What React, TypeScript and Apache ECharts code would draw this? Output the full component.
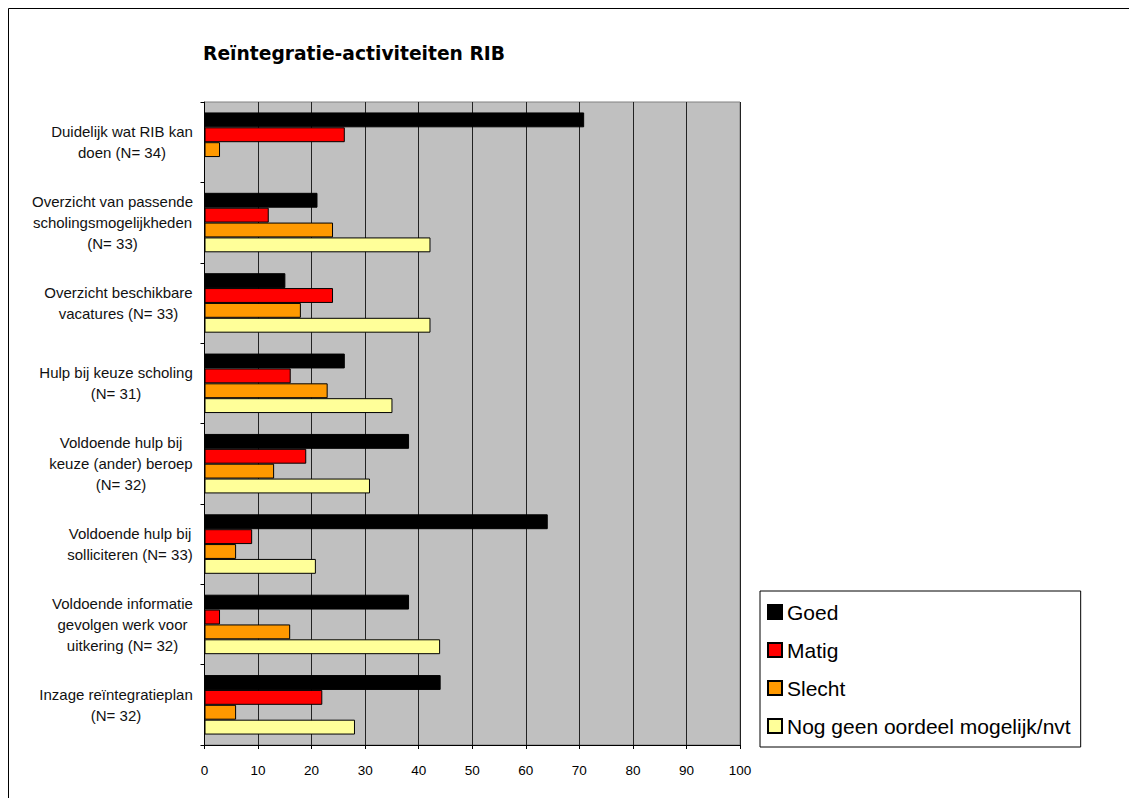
import React, { useEffect, useRef } from "react";
import * as echarts from "echarts";

const categories = [
  "Duidelijk wat RIB kan\ndoen (N= 34)",
  "Overzicht van passende\nscholingsmogelijkheden\n(N= 33)",
  "Overzicht beschikbare\nvacatures (N= 33)",
  "Hulp bij keuze scholing\n(N= 31)",
  "Voldoende hulp bij\nkeuze (ander) beroep\n(N= 32)",
  "Voldoende hulp bij\nsolliciteren (N= 33)",
  "Voldoende informatie\ngevolgen werk voor\nuitkering (N= 32)",
  "Inzage reïntegratieplan\n(N= 32)",
];

const goed = [70.9, 21.1, 15.1, 26.2, 38.2, 64.1, 38.2, 44.1];
const matig = [26.2, 12.0, 24.0, 16.1, 19.0, 8.9, 2.9, 22.0];
const slecht = [2.9, 24.0, 18.0, 23.0, 13.0, 5.9, 16.0, 5.9];
const nogGeen = [null, 42.2, 42.2, 35.1, 30.9, 20.8, 44.0, 28.1];

const seriesNames = ["Goed", "Matig", "Slecht", "Nog geen oordeel mogelijk/nvt"];
const seriesColors = ["#000000", "#FF0000", "#FF9900", "#FFFF99"];
const xTicks = [0, 10, 20, 30, 40, 50, 60, 70, 80, 90, 100];

const FONT = "'Liberation Sans', Arial, sans-serif";
const LABEL_SIZE = 15;

function measure(text: string, font: string): number {
  const c = document.createElement("canvas").getContext("2d");
  if (!c) return text.length * 7;
  c.font = font;
  return c.measureText(text).width;
}

export default function App() {
  const ref = useRef<HTMLDivElement>(null);
  useEffect(() => {
    if (!ref.current) return;
    const chart = echarts.init(ref.current, undefined, { renderer: "svg" });
    const dataSets = [goed, matig, slecht, nogGeen];
    const labelFont = `${LABEL_SIZE}px 'Liberation Sans', Arial, sans-serif`;
    const rich: Record<string, any> = {};
    categories.forEach((c, i) => {
      const w = Math.max(...c.split("\n").map((l) => measure(l, labelFont)));
      rich["w" + i] = {
        width: Math.ceil(w) + 1,
        align: "center",
        fontFamily: FONT,
        fontSize: LABEL_SIZE,
        color: "#111",
        lineHeight: 21,
      };
    });
    chart.setOption({
      animation: false,
      backgroundColor: "#ffffff",
      textStyle: { fontFamily: FONT },
      title: {
        text: "Reïntegratie-activiteiten RIB",
        left: 190,
        top: 31,
        textStyle: {
          fontFamily: "'DejaVu Sans', 'Liberation Sans', sans-serif",
          fontSize: 18.7,
          fontWeight: "bold",
          color: "#000",
        },
      },
      graphic: [
        {
          type: "rect",
          shape: { x: 0.5, y: 0.5, width: 2000, height: 2000 },
          style: { fill: "none", stroke: "#000", lineWidth: 1 },
          silent: true,
          z: -10,
        },
      ],
      legend: {
        orient: "vertical",
        left: 752,
        top: 583,
        data: seriesNames,
        icon: "rect",
        itemWidth: 14,
        itemHeight: 14,
        itemGap: 16,
        itemTextGap: 8,
        padding: [10, 10, 10, 7],
        borderColor: "#000",
        borderWidth: 1,
        backgroundColor: "#fff",
        textStyle: { fontFamily: FONT, fontSize: 21, color: "#000", lineHeight: 22 },
      },
      grid: {
        left: 196.5,
        top: 94,
        width: 535.5,
        height: 643,
        show: true,
        backgroundColor: "#C0C0C0",
        borderColor: "#808080",
        borderWidth: 1,
      },
      xAxis: {
        type: "value",
        min: 0,
        max: 100,
        interval: 10,
        axisLine: { show: true, lineStyle: { color: "#000", width: 1 } },
        axisTick: { show: true, length: 4, lineStyle: { color: "#000" } },
        axisLabel: {
          fontFamily: FONT,
          fontSize: 13.5,
          color: "#000",
          margin: 18,
          formatter: (v: number) => (xTicks.includes(v) ? String(v) : ""),
        },
        splitLine: { show: true, lineStyle: { color: "#222", width: 1 } },
      },
      yAxis: {
        type: "category",
        inverse: true,
        data: categories,
        axisLine: { show: true, lineStyle: { color: "#000", width: 1 } },
        axisTick: { show: true, length: 4, lineStyle: { color: "#000" } },
        axisLabel: {
          fontFamily: FONT,
          fontSize: LABEL_SIZE,
          color: "#111",
          lineHeight: 21,
          align: "right",
          margin: 11,
          rich,
          formatter: (v: string, idx: number) =>
            v
              .split("\n")
              .map((l) => `{w${idx}|${l}}`)
              .join("\n"),
        },
        splitLine: { show: false },
      },
      series: seriesNames.map((name, i) => ({
        name,
        type: "bar",
        data: dataSets[i],
        barGap: "0%",
        barCategoryGap: "26%",
        itemStyle: { color: seriesColors[i], borderColor: "#000", borderWidth: 1 },
      })),
    });
    return () => chart.dispose();
  }, []);
  return <div ref={ref} style={{ width: 1129, height: 790 }} />;
}
